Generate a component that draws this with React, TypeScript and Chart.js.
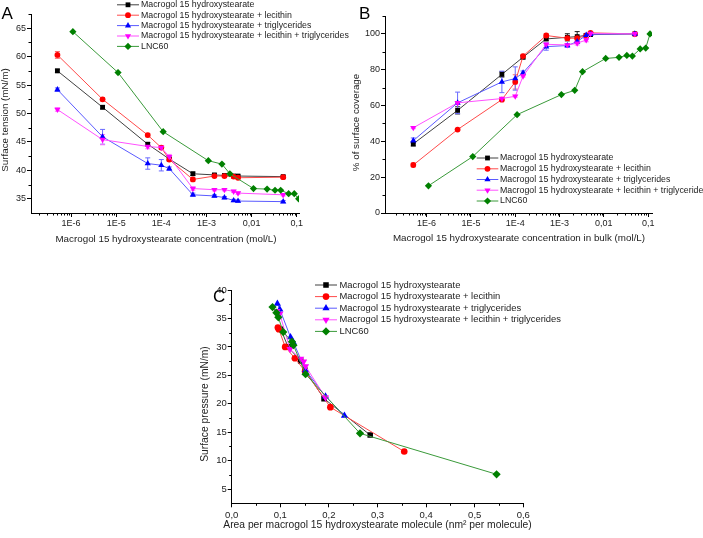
import React, { useEffect, useRef } from "react";
import { Chart, registerables } from "chart.js";
import { drawPoint } from "chart.js/helpers";

Chart.register(...registerables);

const FONT = '"Liberation Sans", Arial, sans-serif';

// ---------- series labels ----------
const seriesLabels = [
  "Macrogol 15 hydroxystearate",
  "Macrogol 15 hydroxystearate + lecithin",
  "Macrogol 15 hydroxystearate + triglycerides",
  "Macrogol 15 hydroxystearate + lecithin + triglycerides",
  "LNC60",
];

// ---------- concentrations (mol/L) ----------
const concM15 = [5e-7, 5e-6, 5e-5, 1.5e-4, 5e-4, 1.5e-3, 2.5e-3, 4e-3, 5e-3, 5e-2];
const concLec = [5e-7, 5e-6, 5e-5, 1e-4, 1.5e-4, 5e-4, 1.5e-3, 2.5e-3, 4e-3, 5e-3, 5e-2];
const concTri = [5e-7, 5e-6, 5e-5, 1e-4, 1.5e-4, 5e-4, 1.5e-3, 2.5e-3, 4e-3, 5e-3, 5e-2];
const concLecTri = [5e-7, 5e-6, 5e-5, 1e-4, 1.5e-4, 5e-4, 1.5e-3, 2.5e-3, 4e-3, 5e-3, 5e-2];
const concLNC = [1.1e-6, 1.1e-5, 1.1e-4, 1.1e-3, 2.2e-3, 3.3e-3, 1.1e-2, 2.2e-2, 3.3e-2, 4.4e-2, 6.6e-2, 8.8e-2, 0.11];

// ---------- Panel A: surface tension (mN/m) ----------
const tensionM15 = [57.5, 51.1, 44.6, 42.0, 39.4, 39.2, 39.1, 39.0, 39.0, 38.9];
const tensionLec = [60.3, 52.5, 46.2, 44.0, 41.9, 38.4, 39.0, 39.0, 38.9, 38.7, 38.8];
const tensionTri = [54.2, 45.9, 41.2, 40.9, 40.3, 35.7, 35.5, 35.2, 34.7, 34.6, 34.5];
const tensionLecTri = [50.7, 45.4, 44.2, 44.0, 42.4, 36.8, 36.6, 36.6, 36.3, 36.0, 35.7];
const tensionLNC = [64.4, 57.2, 46.8, 41.7, 41.1, 39.4, 36.8, 36.7, 36.5, 36.5, 35.9, 35.9, 35.0];

const tensionErrM15 = [0.3, 0.3, 0.3, 0.3, 0.3, 0.2, 0.2, 0.2, 0.2, 0.2];
const tensionErrLec = [0.6, 0.3, 0.3, 0.3, 0.3, 0.3, 0.2, 0.2, 0.2, 0.2, 0.3];
const tensionErrTri = [0.3, 1.3, 1.0, 1.0, 0.3, 0.3, 0.2, 0.2, 0.2, 0.2, 0.2];
const tensionErrLecTri = [0.3, 0.9, 0.4, 0.3, 0.4, 0.3, 0.2, 0.2, 0.2, 0.2, 0.2];

// ---------- Panel B: % of surface coverage ----------
const coverageM15 = [38.6, 57.3, 77.4, 87.0, 97.2, 98.1, 98.5, 99.2, 99.6, 100];
const coverageLec = [26.8, 46.6, 63.3, 73.2, 87.6, 99.1, 97.6, 97.6, 99.0, 100.6, 100];
const coverageTri = [40.4, 61.5, 73.2, 75.1, 78.3, 92.9, 93.5, 95.7, 99.3, 99.8, 100];
const coverageLecTri = [47.6, 61.5, 63.9, 65.2, 76.4, 94.2, 93.8, 94.8, 96.6, 100.2, 100];
const coverageLNC = [15.2, 31.5, 54.9, 66.1, 68.5, 78.9, 86.3, 86.9, 88.0, 87.6, 91.6, 92.1, 100];

const coverageErrM15 = [1.2, 2.0, 1.5, 1.0, 1.0, 2.0, 2.8, 1.0, 0.5, 0.5];
const coverageErrLec = [1.0, 0.5, 0.5, 4.0, 1.0, 1.0, 1.0, 1.0, 0.5, 0.5, 0.5];
const coverageErrTri = [1.5, 6.0, 6.0, 6.5, 1.0, 2.0, 1.0, 1.0, 0.5, 0.5, 0.5];
const coverageErrLecTri = [0.5, 0.5, 0.5, 0.5, 0.5, 0.5, 0.5, 1.0, 1.0, 0.5, 0.5];

// ---------- Panel C: area per molecule (nm²) vs surface pressure (mN/m) ----------
const areaM15 = [0.101, 0.116, 0.142, 0.151, 0.190, 0.285];
const pressureM15 = [33.1, 30.0, 27.5, 25.9, 20.9, 14.5];
const areaLec = [0.095, 0.097, 0.110, 0.130, 0.151, 0.203, 0.355];
const pressureLec = [33.4, 33.1, 30.0, 28.0, 25.7, 19.4, 11.6];
const areaTri = [0.094, 0.099, 0.121, 0.127, 0.152, 0.193, 0.232];
const pressureTri = [37.6, 36.6, 31.7, 30.8, 25.9, 21.3, 17.9];
const areaLecTri = [0.093, 0.099, 0.120, 0.142, 0.148, 0.152, 0.193];
const pressureLecTri = [36.3, 35.8, 29.6, 27.9, 27.4, 26.6, 21.1];
const areaLNC = [0.084, 0.092, 0.096, 0.106, 0.124, 0.127, 0.152, 0.264, 0.545];
const pressureLNC = [37.0, 36.0, 35.2, 32.6, 30.9, 30.3, 25.2, 14.8, 7.6];

// ---------- ticks ----------
const logTicks = [1e-6, 1e-5, 1e-4, 1e-3, 1e-2, 1e-1];
const logTickLabels = ["1E-6", "1E-5", "1E-4", "1E-3", "0,01", "0,1"];
const logMinorTicks: number[] = [];
[1e-7, 1e-6, 1e-5, 1e-4, 1e-3, 1e-2, 1e-1].forEach((d) => {
  [2, 3, 4, 5, 6, 7, 8, 9].forEach((m) => logMinorTicks.push(m * d));
});
const tensionTicks = [35, 40, 45, 50, 55, 60, 65];
const tensionMinor = [37.5, 42.5, 47.5, 52.5, 57.5, 62.5, 67.5];
const coverageTicks = [0, 20, 40, 60, 80, 100];
const coverageMinor = [10, 30, 50, 70, 90, 110];
const areaTicks = [0, 0.1, 0.2, 0.3, 0.4, 0.5, 0.6];
const areaTickLabels = ["0,0", "0,1", "0,2", "0,3", "0,4", "0,5", "0,6"];
const areaMinor = [0.05, 0.15, 0.25, 0.35, 0.45, 0.55];
const pressureTicks = [5, 10, 15, 20, 25, 30, 35, 40];
const pressureMinor = [7.5, 12.5, 17.5, 22.5, 27.5, 32.5, 37.5];

// ---------- styles ----------
const STYLES = [
  { color: "#000000", line: "#404040", err: "#202020", pointStyle: "rect", radius: 3.4, rot: 0 },
  { color: "#ff0000", line: "#ff4a4a", err: "#ff6a6a", pointStyle: "circle", radius: 2.9, rot: 0 },
  { color: "#0000ff", line: "#5a5aff", err: "#6a6aff", pointStyle: "triangle", radius: 3.6, rot: 0 },
  { color: "#ff00ff", line: "#ff50ff", err: "#ff70ff", pointStyle: "triangle", radius: 3.6, rot: 180 },
  { color: "#008000", line: "#3a9a3a", err: "#3a9a3a", pointStyle: "rectRot", radius: 3.6, rot: 0 },
];

type Series = { xs: number[]; ys: number[]; errs?: number[] };

function buildDatasets(series: Series[], scale: number) {
  return series.map((s, i) => {
    const st = STYLES[i];
    return {
      label: seriesLabels[i],
      data: s.xs.map((x, j) => ({ x, y: s.ys[j] })),
      errors: s.errs,
      errColor: st.err,
      showLine: true,
      borderColor: st.line,
      borderWidth: 1,
      backgroundColor: st.color,
      pointBackgroundColor: st.color,
      pointBorderColor: st.color,
      pointBorderWidth: 0,
      pointStyle: st.pointStyle,
      pointRotation: st.rot,
      pointRadius: st.radius * scale,
      pointHoverRadius: st.radius * scale,
      order: 5 - i,
    };
  });
}

type Spec = {
  left: number; top: number; w: number; h: number;
  area: { left: number; top: number; right: number; bottom: number };
  series: Series[];
  markerScale: number;
  x: { type: string; min: number; max: number; ticks: number[]; labels: string[]; minor: number[] };
  y: { min: number; max: number; ticks: number[]; labels: string[]; minor: number[] };
  tickFont: number; xTickPad: number; yTickPad: number;
  titleFont: number;
  xTitle: { text: string; x: number; y: number };
  yTitle: { text: string; x: number; y: number };
  legend: { lx0: number; lx1: number; tx: number; rows: number[]; font: number };
  letter: { text: string; x: number; y: number };
};

function makeDecor(spec: Spec) {
  return {
    id: "decor",
    beforeDatasetsDraw(chart: any) {
      const ctx = chart.ctx;
      const ys = chart.scales.y;
      chart.data.datasets.forEach((ds: any, i: number) => {
        if (!ds.errors) return;
        const meta = chart.getDatasetMeta(i);
        ctx.save();
        ctx.strokeStyle = ds.errColor;
        ctx.lineWidth = 1;
        meta.data.forEach((el: any, j: number) => {
          const e = ds.errors[j];
          if (!e) return;
          const v = ds.data[j].y;
          const y1 = ys.getPixelForValue(v + e);
          const y2 = ys.getPixelForValue(v - e);
          const x = el.x;
          ctx.beginPath();
          ctx.moveTo(x, y1); ctx.lineTo(x, y2);
          ctx.moveTo(x - 2.5, y1); ctx.lineTo(x + 2.5, y1);
          ctx.moveTo(x - 2.5, y2); ctx.lineTo(x + 2.5, y2);
          ctx.stroke();
        });
        ctx.restore();
      });
    },
    afterDraw(chart: any) {
      const ctx = chart.ctx;
      const a = chart.chartArea;
      const xs = chart.scales.x;
      const ys = chart.scales.y;
      ctx.save();
      // minor ticks
      ctx.strokeStyle = "#000";
      ctx.lineWidth = 1;
      ctx.beginPath();
      spec.x.minor.forEach((v) => {
        if (v < spec.x.min || v > spec.x.max) return;
        const px = Math.round(xs.getPixelForValue(v)) + 0.5;
        ctx.moveTo(px, a.bottom); ctx.lineTo(px, a.bottom + 2.5);
      });
      spec.y.minor.forEach((v) => {
        if (v < spec.y.min || v > spec.y.max) return;
        const py = Math.round(ys.getPixelForValue(v)) + 0.5;
        ctx.moveTo(a.left, py); ctx.lineTo(a.left - 2.5, py);
      });
      ctx.stroke();
      // titles
      ctx.fillStyle = "#222";
      ctx.font = `${spec.titleFont}px ${FONT}`;
      ctx.textAlign = "center";
      ctx.textBaseline = "middle";
      ctx.fillText(spec.xTitle.text, spec.xTitle.x, spec.xTitle.y);
      ctx.save();
      ctx.translate(spec.yTitle.x, spec.yTitle.y);
      ctx.rotate(-Math.PI / 2);
      ctx.fillText(spec.yTitle.text, 0, 0);
      ctx.restore();
      // letter
      ctx.fillStyle = "#000";
      ctx.font = `17px ${FONT}`;
      ctx.textAlign = "left";
      ctx.textBaseline = "alphabetic";
      ctx.fillText(spec.letter.text, spec.letter.x, spec.letter.y);
      // legend
      const L = spec.legend;
      chart.data.datasets.forEach((ds: any, i: number) => {
        const y = L.rows[i];
        ctx.strokeStyle = ds.borderColor;
        ctx.lineWidth = 1;
        ctx.beginPath();
        ctx.moveTo(L.lx0, y); ctx.lineTo(L.lx1, y);
        ctx.stroke();
        ctx.fillStyle = ds.pointBackgroundColor;
        ctx.strokeStyle = ds.pointBackgroundColor;
        drawPoint(ctx, { pointStyle: ds.pointStyle, rotation: ds.pointRotation, radius: ds.pointRadius, borderWidth: 0 } as any, (L.lx0 + L.lx1) / 2, y);
        ctx.fillStyle = "#222";
        ctx.font = `${L.font}px ${FONT}`;
        ctx.textAlign = "left";
        ctx.textBaseline = "middle";
        ctx.fillText(ds.label, L.tx, y);
      });
      ctx.restore();
    },
  };
}

function buildConfig(spec: Spec): any {
  const A = spec.area;
  const tickFont = { family: FONT, size: spec.tickFont };
  return {
    type: "scatter",
    data: { datasets: buildDatasets(spec.series, spec.markerScale) },
    options: {
      animation: false,
      responsive: false,
      devicePixelRatio: 1,
      events: [],
      layout: { padding: { left: 0, top: A.top, right: spec.w - A.right, bottom: 0 } },
      plugins: { legend: { display: false }, tooltip: { enabled: false }, title: { display: false } },
      scales: {
        x: {
          type: spec.x.type,
          min: spec.x.min,
          max: spec.x.max,
          afterBuildTicks: (s: any) => { s.ticks = spec.x.ticks.map((v) => ({ value: v })); },
          ticks: {
            callback: (_v: any, idx: number) => spec.x.labels[idx],
            font: tickFont, color: "#222", padding: spec.xTickPad,
            autoSkip: false, maxRotation: 0, minRotation: 0,
          },
          grid: { drawOnChartArea: false, drawTicks: true, tickLength: 4, color: "#000", tickWidth: 1 },
          border: { display: true, color: "#000", width: 1 },
          afterFit: (s: any) => { s.height = spec.h - A.bottom; s.paddingLeft = 0; s.paddingRight = 0; },
        },
        y: {
          type: "linear",
          min: spec.y.min,
          max: spec.y.max,
          afterBuildTicks: (s: any) => { s.ticks = spec.y.ticks.map((v) => ({ value: v })); },
          ticks: {
            callback: (_v: any, idx: number) => spec.y.labels[idx],
            font: tickFont, color: "#222", padding: spec.yTickPad, autoSkip: false,
          },
          grid: { drawOnChartArea: false, drawTicks: true, tickLength: 4, color: "#000", tickWidth: 1 },
          border: { display: true, color: "#000", width: 1 },
          afterFit: (s: any) => { s.width = A.left; s.paddingTop = 0; s.paddingBottom = 0; },
        },
      },
    },
    plugins: [makeDecor(spec)],
  };
}

const specA: Spec = {
  left: 0, top: 0, w: 350, h: 260,
  area: { left: 31, top: 14, right: 299, bottom: 213 },
  series: [
    { xs: concM15, ys: tensionM15, errs: tensionErrM15 },
    { xs: concLec, ys: tensionLec, errs: tensionErrLec },
    { xs: concTri, ys: tensionTri, errs: tensionErrTri },
    { xs: concLecTri, ys: tensionLecTri, errs: tensionErrLecTri },
    { xs: concLNC, ys: tensionLNC },
  ],
  markerScale: 1,
  x: { type: "logarithmic", min: 1.3e-7, max: 0.112, ticks: logTicks, labels: logTickLabels, minor: logMinorTicks },
  y: { min: 32.5, max: 67.5, ticks: tensionTicks, labels: tensionTicks.map(String), minor: tensionMinor },
  tickFont: 9, xTickPad: 1.5, yTickPad: 1,
  titleFont: 9.8,
  xTitle: { text: "Macrogol 15 hydroxystearate concentration (mol/L)", x: 166, y: 239.5 },
  yTitle: { text: "Surface tension (mN/m)", x: 5, y: 120 },
  legend: { lx0: 117, lx1: 139, tx: 141, rows: [4.8, 15.2, 25.6, 36, 46.4], font: 8.8 },
  letter: { text: "A", x: 1.5, y: 19.3 },
};

const specB: Spec = {
  left: 350, top: 0, w: 353, h: 260,
  area: { left: 35, top: 16, right: 302, bottom: 213 },
  series: [
    { xs: concM15, ys: coverageM15, errs: coverageErrM15 },
    { xs: concLec, ys: coverageLec, errs: coverageErrLec },
    { xs: concTri, ys: coverageTri, errs: coverageErrTri },
    { xs: concLecTri, ys: coverageLecTri, errs: coverageErrLecTri },
    { xs: concLNC, ys: coverageLNC },
  ],
  markerScale: 1,
  x: { type: "logarithmic", min: 1.15e-7, max: 0.122, ticks: logTicks, labels: logTickLabels, minor: logMinorTicks },
  y: { min: 0, max: 110, ticks: coverageTicks, labels: coverageTicks.map(String), minor: coverageMinor },
  tickFont: 9, xTickPad: 1.5, yTickPad: 1,
  titleFont: 9.8,
  xTitle: { text: "Macrogol 15 hydroxystearate concentration in bulk (mol/L)", x: 169, y: 238.3 },
  yTitle: { text: "% of surface coverage", x: 6, y: 122.5 },
  legend: { lx0: 126.7, lx1: 148.3, tx: 150, rows: [158, 168.8, 179.5, 190.2, 201], font: 8.8 },
  letter: { text: "B", x: 9, y: 19.3 },
};

const specC: Spec = {
  left: 180, top: 270, w: 400, h: 268,
  area: { left: 51.7, top: 20, right: 343.3, bottom: 233.3 },
  series: [
    { xs: areaM15, ys: pressureM15 },
    { xs: areaLec, ys: pressureLec },
    { xs: areaTri, ys: pressureTri },
    { xs: areaLecTri, ys: pressureLecTri },
    { xs: areaLNC, ys: pressureLNC },
  ],
  markerScale: 1.15,
  x: { type: "linear", min: 0, max: 0.6, ticks: areaTicks, labels: areaTickLabels, minor: areaMinor },
  y: { min: 2.5, max: 40, ticks: pressureTicks, labels: pressureTicks.map(String), minor: pressureMinor },
  tickFont: 9.5, xTickPad: 2.5, yTickPad: 1,
  titleFont: 10.3,
  xTitle: { text: "Area per macrogol 15 hydroxystearate molecule (nm² per molecule)", x: 197.5, y: 255 },
  yTitle: { text: "Surface pressure (mN/m)", x: 25, y: 134 },
  legend: { lx0: 135, lx1: 157, tx: 159.5, rows: [15, 26.6, 38.2, 49.8, 61.4], font: 9.4 },
  letter: { text: "C", x: 33, y: 32 },
};

function Panel({ spec }: { spec: Spec }) {
  const ref = useRef<HTMLCanvasElement>(null);
  useEffect(() => {
    if (!ref.current) return;
    const chart = new Chart(ref.current, buildConfig(spec));
    return () => chart.destroy();
  }, [spec]);
  return (
    <canvas
      ref={ref}
      width={spec.w}
      height={spec.h}
      style={{ position: "absolute", left: spec.left, top: spec.top, width: spec.w, height: spec.h }}
    />
  );
}

export default function App() {
  return (
    <div style={{ position: "fixed", left: 0, top: 0, width: 703, height: 538, background: "#fff", overflow: "hidden" }}>
      <Panel spec={specA} />
      <Panel spec={specB} />
      <Panel spec={specC} />
    </div>
  );
}
